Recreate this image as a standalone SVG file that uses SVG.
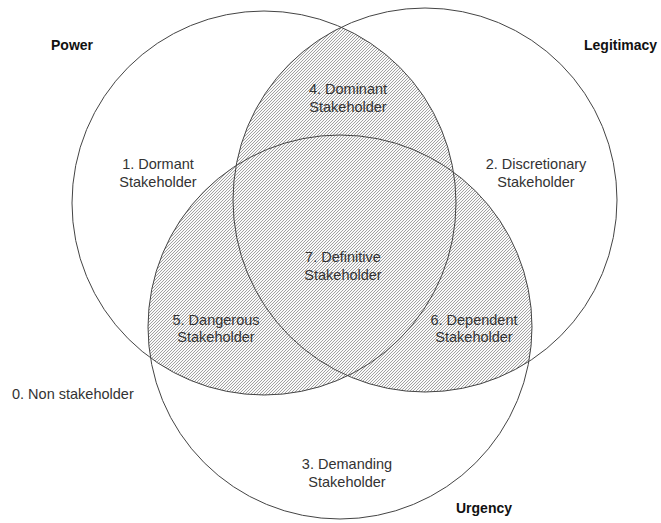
<svg xmlns="http://www.w3.org/2000/svg" width="661" height="523" viewBox="0 0 661 523">
<style>
.circ{fill:none;stroke:#444;stroke-width:1}
.lbl{font-family:"Liberation Sans",Arial,sans-serif;font-size:14.5px;fill:#333;text-anchor:middle}
.ttl{font-family:"Liberation Sans",Arial,sans-serif;font-size:14px;font-weight:bold;fill:#111}
.hatch{fill:url(#hatch);stroke:none}
</style>
<defs>
<pattern id="hatch" patternUnits="userSpaceOnUse" width="3" height="3">
<rect width="3" height="3" fill="#fafafa"/>
<path d="M-1,1 l2,-2 M0,3 l3,-3 M2,4 l2,-2" stroke="#999" stroke-width="0.9"/>
</pattern>
<clipPath id="clipP"><circle cx="264" cy="203" r="192"/></clipPath>
<clipPath id="clipL"><circle cx="425" cy="200" r="192"/></clipPath>
<clipPath id="clipU"><circle cx="340" cy="327" r="192"/></clipPath>
</defs>
<rect width="661" height="523" fill="#fff"/>
<g id="shading">
<circle class="hatch" cx="425" cy="200" r="192" clip-path="url(#clipP)"/>
<circle class="hatch" cx="340" cy="327" r="192" clip-path="url(#clipP)"/>
<circle class="hatch" cx="340" cy="327" r="192" clip-path="url(#clipL)"/>
</g>
<g id="power">
<circle class="circ" cx="264" cy="203" r="192"/>
<text class="ttl" x="51" y="50">Power</text>
</g>
<g id="legitimacy">
<circle class="circ" cx="425" cy="200" r="192"/>
<text class="ttl" x="584" y="50">Legitimacy</text>
</g>
<g id="urgency">
<circle class="circ" cx="340" cy="327" r="192"/>
<text class="ttl" x="456" y="513">Urgency</text>
</g>
<g id="connectors"/>
<g id="non-stakeholder"><text class="lbl" x="12" y="399" style="text-anchor:start">0. Non stakeholder</text></g>
<g id="dormant"><text class="lbl" x="158" y="169">1. Dormant</text><text class="lbl" x="158" y="187">Stakeholder</text></g>
<g id="discretionary"><text class="lbl" x="536" y="169">2. Discretionary</text><text class="lbl" x="536" y="187">Stakeholder</text></g>
<g id="demanding"><text class="lbl" x="347" y="469">3. Demanding</text><text class="lbl" x="347" y="487">Stakeholder</text></g>
<g id="dominant"><text class="lbl" x="348" y="94">4. Dominant</text><text class="lbl" x="348" y="112">Stakeholder</text></g>
<g id="dangerous"><text class="lbl" x="216" y="325">5. Dangerous</text><text class="lbl" x="216" y="342">Stakeholder</text></g>
<g id="dependent"><text class="lbl" x="474" y="325">6. Dependent</text><text class="lbl" x="474" y="342">Stakeholder</text></g>
<g id="definitive"><text class="lbl" x="343" y="262">7. Definitive</text><text class="lbl" x="343" y="280">Stakeholder</text></g>
</svg>
